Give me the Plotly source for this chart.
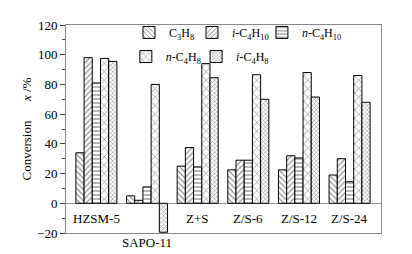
import plotly.graph_objects as go

categories = ["HZSM-5", "SAPO-11", "Z+S", "Z/S-6", "Z/S-12", "Z/S-24"]
series_names = [
    "C<sub>3</sub>H<sub>8</sub>",
    "<i>i</i>-C<sub>4</sub>H<sub>10</sub>",
    "<i>n</i>-C<sub>4</sub>H<sub>10</sub>",
    "<i>n</i>-C<sub>4</sub>H<sub>8</sub>",
    "<i>i</i>-C<sub>4</sub>H<sub>8</sub>",
]
c3h8 = [34, 5, 25, 22.5, 22.5, 19]
i_c4h10 = [98, 2, 37.5, 29, 32, 30]
n_c4h10 = [81, 11, 24.5, 29, 30.5, 14.5]
n_c4h8 = [97.5, 80, 94, 86.5, 88, 86]
i_c4h8 = [95.5, -19.5, 84.5, 70, 71.5, 68]
series_values = [c3h8, i_c4h10, n_c4h10, n_c4h8, i_c4h8]
patterns = [("\\", 4, 0.28), ("/", 4, 0.28), ("-", 4, 0.28), ("x", 6, 0.2), ("x", 3, 0.3)]
legend_ids = ["legend", "legend2", "legend3", "legend4", "legend5"]
# legend placement (paper coords) for each entry
legend_pos = [(0.2, 1.034), (0.4, 1.034), (0.622, 1.034), (0.19, 0.918), (0.413, 0.918)]

FONT = "Liberation Serif"
fig = go.Figure()
xs = list(range(len(categories)))
for name, vals, (shape, size, sol), lg in zip(series_names, series_values, patterns, legend_ids):
    fig.add_trace(go.Bar(
        x=xs, y=vals, name=name, legend=lg,
        marker=dict(color="white", line=dict(color="black", width=1),
                    pattern=dict(shape=shape, size=size, solidity=sol,
                                 fgcolor="black", bgcolor="white")),
    ))

for i, cat in enumerate(categories):
    if cat == "SAPO-11":
        fig.add_annotation(x=i, y=-20, yref="y", xref="x", text=cat, showarrow=False,
                           yanchor="top", yshift=0, font=dict(family=FONT, size=13, color="black"))
    else:
        fig.add_annotation(x=i, y=0, yref="y", xref="x", text=cat, showarrow=False,
                           yanchor="top", yshift=-6, font=dict(family=FONT, size=13, color="black"))

legends = {}
for lg, (lx, ly) in zip(legend_ids, legend_pos):
    legends[lg] = dict(orientation="h", x=lx, y=ly, xanchor="left", yanchor="top",
                       bgcolor="rgba(0,0,0,0)", font=dict(family=FONT, size=12),
                       itemwidth=30, visible=True)

fig.update_layout(
    width=412, height=254,
    margin=dict(l=66, r=31, t=25, b=21, autoexpand=False),
    paper_bgcolor="white", plot_bgcolor="white",
    barmode="group", bargap=0.19, bargroupgap=0,
    font=dict(family=FONT, size=12, color="black"),
    xaxis=dict(range=[-0.6, 5.62], showticklabels=False, ticks="", showgrid=False,
               zeroline=False, showline=True, linecolor="#888", linewidth=1, mirror=True),
    yaxis=dict(range=[-20, 120], tickvals=[-20, 0, 20, 40, 60, 80, 100, 120],
               ticktext=["\u221220", "0", "20", "40", "60", "80", "100", "120"],
               ticks="outside", ticklen=5, tickcolor="#444", showgrid=False,
               zeroline=True, zerolinecolor="#999", zerolinewidth=1,
               showline=True, linecolor="#888", linewidth=1, mirror=True,
               minor=dict(dtick=10, ticks="outside", ticklen=3, tickcolor="#444"),
               tickfont=dict(family=FONT, size=13),
               title=dict(text="Conversion      <i>x</i> /%", font=dict(family=FONT, size=13), standoff=2)),
    showlegend=True,
    **legends,
)
fig.write_html("out.html", config={"displayModeBar": False},
               post_script="document.body.style.margin='0';")
